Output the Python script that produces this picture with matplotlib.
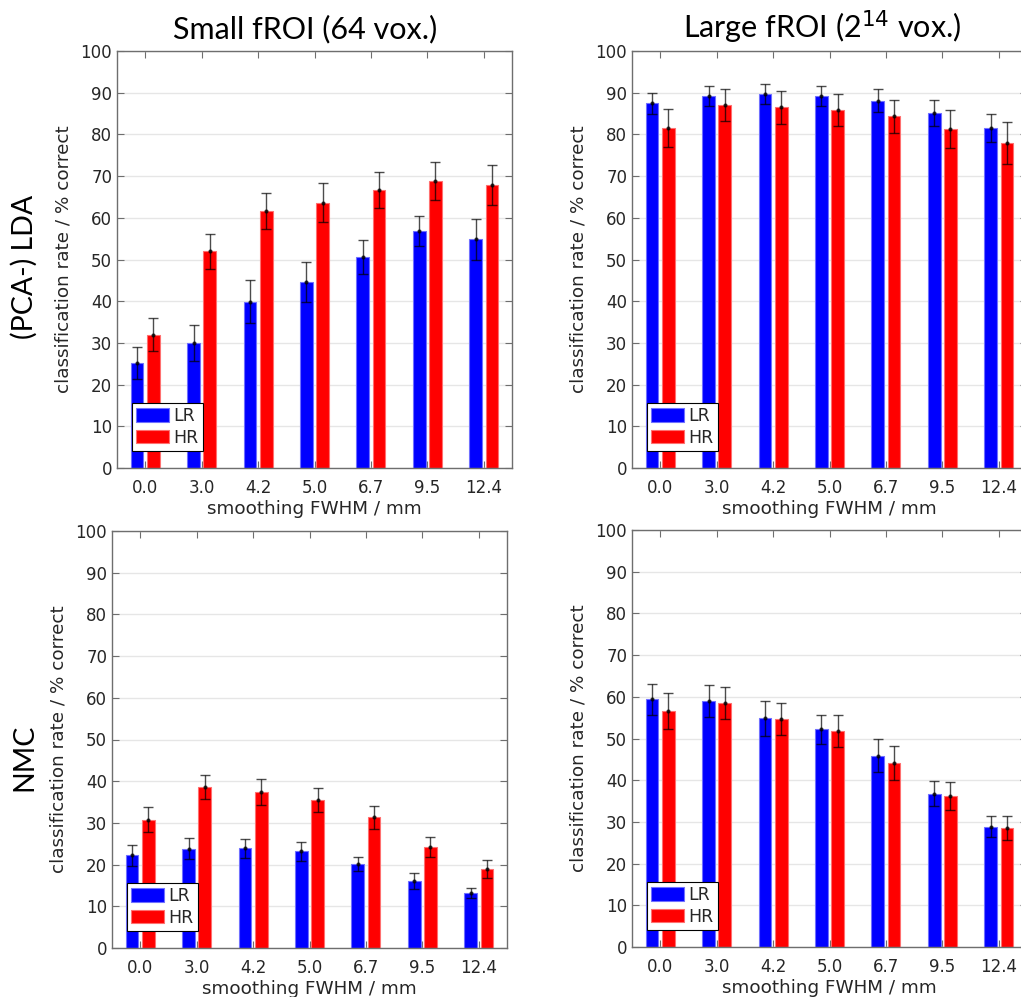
import numpy as np
import matplotlib
matplotlib.use("Agg")
import matplotlib.pyplot as plt

plt.rcParams["font.family"] = ["DejaVu Sans"]

# ---------------- data ----------------
fwhm_labels = ["0.0", "3.0", "4.2", "5.0", "6.7", "9.5", "12.4"]
series_names = ["LR", "HR"]
col_titles = ["Small fROI (64 vox.)", "Large fROI (2$^{14}$ vox.)"]
row_titles = ["(PCA-) LDA", "NMC"]

# (PCA-) LDA, small fROI
lda_small_lr = [25.2, 30.0, 39.9, 44.6, 50.6, 56.8, 54.9]
lda_small_lr_err = [3.8, 4.3, 5.2, 4.7, 4.0, 3.6, 4.9]
lda_small_hr = [32.0, 52.0, 61.7, 63.6, 66.7, 68.9, 67.8]
lda_small_hr_err = [3.9, 4.2, 4.3, 4.7, 4.4, 4.6, 4.8]

# (PCA-) LDA, large fROI
lda_large_lr = [87.5, 89.1, 89.7, 89.3, 88.1, 85.1, 81.5]
lda_large_lr_err = [2.5, 2.4, 2.5, 2.4, 2.7, 3.1, 3.3]
lda_large_hr = [81.5, 87.1, 86.5, 85.9, 84.3, 81.3, 78.0]
lda_large_hr_err = [4.5, 3.8, 4.0, 3.8, 3.9, 4.5, 5.0]

# NMC, small fROI
nmc_small_lr = [22.2, 23.8, 23.9, 23.2, 20.2, 16.1, 13.2]
nmc_small_lr_err = [2.55, 2.55, 2.2, 2.25, 1.65, 1.9, 1.25]
nmc_small_hr = [30.8, 38.6, 37.4, 35.5, 31.3, 24.2, 19.0]
nmc_small_hr_err = [3.0, 2.95, 3.05, 2.95, 2.7, 2.35, 2.2]

# NMC, large fROI
nmc_large_lr = [59.4, 59.0, 54.9, 52.2, 45.9, 36.8, 28.8]
nmc_large_lr_err = [3.7, 3.85, 4.2, 3.45, 3.9, 2.9, 2.5]
nmc_large_hr = [56.6, 58.5, 54.6, 51.8, 44.2, 36.1, 28.5]
nmc_large_hr_err = [4.35, 3.9, 3.8, 3.8, 4.1, 3.35, 2.85]

panels = [
    [(lda_small_lr, lda_small_lr_err, lda_small_hr, lda_small_hr_err),
     (lda_large_lr, lda_large_lr_err, lda_large_hr, lda_large_hr_err)],
    [(nmc_small_lr, nmc_small_lr_err, nmc_small_hr, nmc_small_hr_err),
     (nmc_large_lr, nmc_large_lr_err, nmc_large_hr, nmc_large_hr_err)],
]

# ---------------- layout ----------------
W, H = 1021, 997
fig = plt.figure(figsize=(W / 100, H / 100), dpi=100)

def px_axes(left, top, width, height):
    return [left / W, 1 - (top + height) / H, width / W, height / H]

axes_px = [
    [(117, 51), (632, 51)],
    [(112, 531), (632, 530)],
]
AW, AH = 395, 417

tick_col = "#262626"
spine_col = "#6e6e6e"
blue, red = "#0000ff", "#ff0000"
blue_edge, red_edge = "#7070ff", "#ff7070"

x = np.arange(1, len(fwhm_labels) + 1)
off = 0.144
bw = 0.225

for r in range(2):
    for c in range(2):
        lft, top = axes_px[r][c]
        ax = fig.add_axes(px_axes(lft, top, AW, AH))
        lr, lre, hr, hre = panels[r][c]
        ax.set_axisbelow(True)
        ax.yaxis.grid(True, color="#e6e6e6", lw=1.0)
        ax.bar(x - off, lr, bw, color=blue, edgecolor=blue_edge, lw=0.8, label=series_names[0])
        ax.bar(x + off, hr, bw, color=red, edgecolor=red_edge, lw=0.8, label=series_names[1])
        for xs, ys, es in [(x - off, lr, lre), (x + off, hr, hre)]:
            ax.errorbar(xs, ys, yerr=es, fmt=".", color="black", ms=4,
                        elinewidth=1.0, capsize=3.5, capthick=1.0, alpha=0.7)
        ax.set_xlim(0.5, 7.5)
        ax.set_ylim(0, 100)
        ax.set_yticks(np.arange(0, 101, 10))
        ax.set_xticks(x)
        ax.set_xticklabels(fwhm_labels)
        ax.tick_params(axis="both", direction="in", length=5, width=0.8,
                       labelsize=12, top=True, right=True,
                       labelcolor=tick_col, color=spine_col)
        ax.tick_params(axis="x", pad=8)
        for s in ax.spines.values():
            s.set_color(spine_col)
            s.set_linewidth(1.0)
        ax.set_ylabel("classification rate / % correct", fontsize=13.2,
                      color=tick_col, labelpad=6)
        ax.set_xlabel("smoothing FWHM / mm", fontsize=13.2, color=tick_col, labelpad=2)
        leg = ax.legend(loc="lower left", bbox_to_anchor=(0.038, 0.041),
                        borderaxespad=0, fontsize=12.5, fancybox=False,
                        framealpha=1, edgecolor="black", handlelength=1.9,
                        handleheight=0.85, handletextpad=0.25, labelspacing=0.2,
                        borderpad=0.25)
        leg.get_frame().set_linewidth(0.8)
        for t in leg.get_texts():
            t.set_color(tick_col)

title_font = ["Lato", "DejaVu Sans"]
fig.text(305 / W, 1 - 38 / H, col_titles[0], fontsize=22, family=title_font,
         ha="center", va="baseline")
fig.text(822 / W, 1 - 38 / H, col_titles[1], fontsize=22, family=title_font,
         ha="center", va="baseline")
fig.text(24 / W, 1 - 267 / H, row_titles[0], fontsize=20.5, family=title_font,
         rotation=90, ha="center", va="center")
fig.text(24 / W, 1 - 757 / H, row_titles[1], fontsize=20.5, family=title_font,
         rotation=90, ha="center", va="center")

fig.savefig("out.png", dpi=100)
